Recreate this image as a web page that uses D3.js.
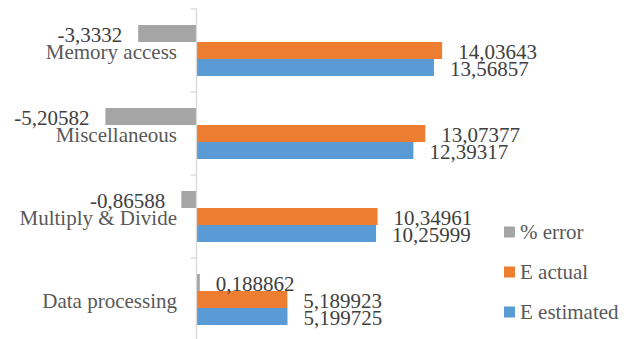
<!DOCTYPE html>
<html>
<head>
<meta charset="utf-8">
<script src="https://cdn.jsdelivr.net/npm/d3@7"></script>
</head>
<body style="margin:0">
<svg id="chart" width="633" height="339"></svg>
<script>
const categories = ["Memory access", "Miscellaneous", "Multiply & Divide", "Data processing"];
const seriesNames = ["% error", "E actual", "E estimated"];
const pctError   = [-3.3332, -5.20582, -0.86588, 0.188862];
const eActual    = [14.03643, 13.07377, 10.34961, 5.189923];
const eEstimated = [13.56857, 12.39317, 10.25999, 5.199725];
const valueLabels = [
  ["-3,3332", "-5,20582", "-0,86588", "0,188862"],
  ["14,03643", "13,07377", "10,34961", "5,189923"],
  ["13,56857", "12,39317", "10,25999", "5,199725"]
];
const colors = ["#A5A5A5", "#ED7D31", "#5B9BD5"];
const FONT = '"Liberation Serif"';
const FS = 21;
const BASE = FS * 0.35;

const seriesValues = [pctError, eActual, eEstimated];
const svg = d3.select("#chart");

const x = d3.scaleLinear().domain([-6, 16]).range([196.5 - 6 * 17.5, 196.5 + 16 * 17.5]);
const y0 = d3.scaleBand().domain(categories).range([9, 341]).padding(0);
const y1 = d3.scaleBand().domain(seriesNames).range([16, 67]).padding(0);

// bars
seriesNames.forEach((s, si) => {
  svg.selectAll("rect.s" + si).data(categories).enter().append("rect")
    .attr("class", "s" + si)
    .attr("x", (d, i) => Math.min(x(0), x(seriesValues[si][i])))
    .attr("y", d => y0(d) + y1(s))
    .attr("width", (d, i) => Math.abs(x(seriesValues[si][i]) - x(0)))
    .attr("height", y1.bandwidth())
    .attr("fill", colors[si]);
});

// axis line and ticks
svg.append("line")
  .attr("x1", x(0)).attr("x2", x(0))
  .attr("y1", y0.range()[0]).attr("y2", y0.range()[1])
  .attr("stroke", "#D9D9D9").attr("stroke-width", 1.3);
const tickYs = categories.map(c => y0(c)).concat([y0.range()[1]]);
svg.selectAll("line.tick").data(tickYs).enter().append("line")
  .attr("class", "tick")
  .attr("x1", x(0) - 6).attr("x2", x(0))
  .attr("y1", d => d).attr("y2", d => d)
  .attr("stroke", "#D9D9D9").attr("stroke-width", 1.3);

// category labels
svg.selectAll("text.catlabel").data(categories).enter().append("text")
  .attr("class", "catlabel")
  .attr("x", 177)
  .attr("y", d => y0(d) + y0.bandwidth() / 2 + 1.5 + BASE)
  .attr("text-anchor", "end")
  .attr("font-size", FS)
  .style("font-family", FONT)
  .attr("fill", "#595959")
  .text(d => d);

// value labels
seriesNames.forEach((s, si) => {
  svg.selectAll("text.v" + si).data(categories).enter().append("text")
    .attr("class", "v" + si)
    .attr("x", (d, i) => {
      const v = seriesValues[si][i];
      return v >= 0 ? x(v) + 16 : x(v) - 16;
    })
    .attr("y", d => y0(d) + y1(s) + y1.bandwidth() / 2 + 1 + BASE)
    .attr("text-anchor", (d, i) => seriesValues[si][i] >= 0 ? "start" : "end")
    .attr("font-size", FS)
    .style("font-family", FONT)
    .attr("fill", "#404040")
    .text((d, i) => valueLabels[si][i]);
});

// legend
seriesNames.forEach((s, si) => {
  const cy = 232 + si * 40;
  svg.append("rect")
    .attr("x", 504).attr("y", cy - 5.5)
    .attr("width", 11).attr("height", 11)
    .attr("fill", colors[si]);
  svg.append("text")
    .attr("x", 520).attr("y", cy + BASE)
    .attr("font-size", FS)
    .style("font-family", FONT)
    .attr("fill", "#595959")
    .text(s);
});
</script>
</body>
</html>
